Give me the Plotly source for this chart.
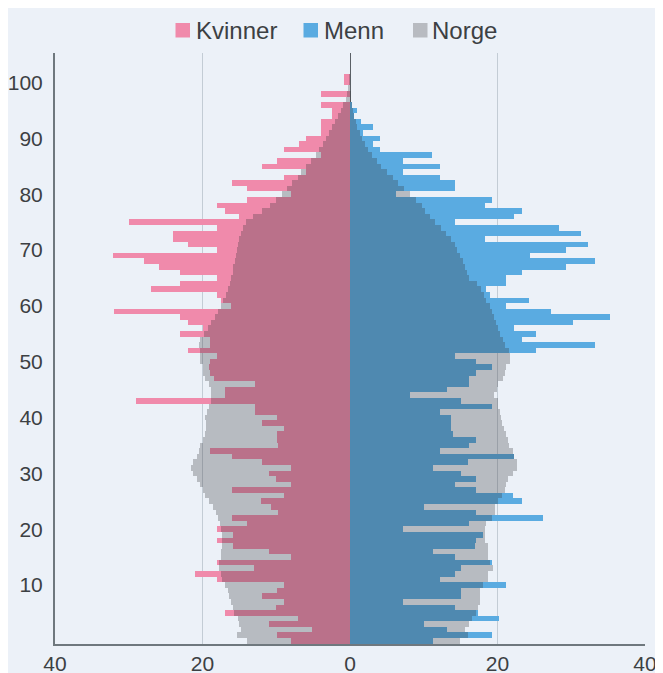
import plotly.graph_objects as go

ages = list(range(0, 102))

kvinner = [
    8.0, 9.9, 5.1, 11.0, 7.0, 17.0, 10.0, 9.0, 12.0, 9.9,
    9.0, 18.0, 21.0, 13.0, 18.0, 8.0, 11.0, 15.9, 18.0, 15.9,
    18.0, 13.9, 16.0, 9.8, 10.7, 12.1, 8.9, 16.0, 8.0, 10.0,
    11.0, 8.0, 12.0, 16.0, 19.0, 9.8, 9.9, 9.9, 8.9, 11.9,
    9.9, 12.9, 12.9, 29.0, 17.0, 17.0, 12.9, 18.5, 19.0, 19.1,
    19.0, 18.0, 22.0, 19.0, 19.0, 23.0, 20.0, 22.0, 23.0, 32.0,
    16.2, 17.5, 18.0, 27.0, 23.0, 18.0, 23.0, 25.9, 28.0, 32.1,
    18.0, 22.0, 24.0, 24.0, 18.0, 30.0, 15.0, 17.0, 18.0, 13.9,
    8.0, 13.9, 16.0, 8.9, 6.0, 12.0, 9.9, 4.0, 8.9, 6.9,
    5.9, 3.9, 3.9, 3.9, 2.5, 2.5, 3.9, 0.0, 3.9, 0.0,
    0.8, 0.8,
]

menn = [
    11.2, 19.2, 13.2, 10.1, 20.2, 17.3, 14.2, 7.2, 15.1, 15.1,
    21.2, 12.2, 14.2, 15.1, 19.2, 14.2, 11.2, 17.0, 17.1, 18.0,
    7.2, 16.2, 26.2, 17.1, 10.1, 23.3, 22.1, 17.1, 14.2, 17.1,
    15.1, 11.2, 16.0, 22.3, 12.2, 16.2, 17.1, 14.0, 13.7, 13.7,
    13.7, 12.2, 19.2, 15.1, 8.1, 13.2, 16.2, 16.2, 17.1, 19.2,
    17.1, 14.2, 25.2, 33.2, 23.3, 25.2, 22.3, 30.3, 35.3, 27.3,
    21.2, 24.3, 19.0, 18.5, 21.2, 21.2, 23.3, 29.3, 33.2, 24.4,
    29.3, 32.3, 18.3, 31.3, 28.3, 14.2, 22.3, 23.3, 18.3, 19.2,
    6.3, 14.2, 14.2, 12.2, 7.2, 12.2, 7.2, 11.1, 4.0, 3.1,
    4.1, 1.8, 3.1, 1.5, 0.5, 1.0, 0.3, 0.0, 0.0, 0.0,
    0.0, 0.0,
]

norge_kvinner = [
    13.9, 15.3, 14.8, 15.0, 15.2, 15.7, 15.9, 16.2, 16.4, 16.6,
    17.0, 17.3, 17.5, 17.7, 17.7, 17.5, 17.5, 17.4, 17.3, 17.3,
    17.5, 17.6, 17.9, 18.2, 18.6, 19.1, 19.6, 20.0, 20.3, 20.8,
    21.3, 21.6, 21.3, 20.8, 20.5, 20.3, 20.0, 19.7, 19.5, 19.5,
    19.6, 19.4, 19.1, 18.9, 18.8, 18.9, 19.1, 19.7, 19.9, 20.0,
    20.3, 20.3, 20.4, 20.5, 20.3, 19.8, 19.3, 18.8, 18.3, 17.9,
    17.5, 17.2, 16.8, 16.5, 16.3, 16.1, 15.9, 15.8, 15.6, 15.5,
    15.3, 15.2, 15.0, 14.8, 14.5, 14.1, 13.2, 12.0, 10.8, 10.0,
    9.2, 8.5, 7.8, 7.1, 6.6, 6.0, 5.3, 4.6, 4.2, 3.7,
    3.3, 2.8, 2.4, 2.0, 1.6, 1.2, 0.9, 0.6, 0.4, 0.25,
    0.15, 0.1,
]

norge_menn = [
    14.9, 16.0, 15.6, 16.2, 16.5, 17.1, 17.3, 17.6, 17.6, 17.6,
    18.0, 18.7, 18.7, 19.4, 19.0, 18.7, 18.7, 18.7, 18.3, 18.3,
    18.3, 18.5, 19.2, 19.6, 19.6, 20.0, 20.6, 21.0, 21.2, 21.4,
    22.1, 22.6, 22.6, 22.2, 22.1, 21.5, 21.4, 21.2, 20.9, 20.6,
    20.5, 20.3, 20.1, 20.1, 19.5, 19.9, 20.1, 20.8, 21.0, 21.2,
    21.7, 21.7, 21.5, 21.0, 20.7, 20.4, 20.1, 19.8, 19.5, 19.2,
    19.0, 18.5, 18.2, 17.8, 17.2, 16.2, 15.9, 15.6, 15.3, 14.9,
    14.5, 14.2, 13.7, 13.0, 12.3, 11.5, 10.8, 10.2, 9.7, 8.9,
    8.1, 7.3, 6.5, 5.8, 5.0, 4.2, 3.6, 3.0, 2.5, 2.0,
    1.6, 1.3, 1.0, 0.8, 0.6, 0.4, 0.3, 0.2, 0.1, 0.05,
    0.03, 0.02,
]

x_tickvals = [-40, -20, 0, 20, 40]
x_ticktext = ["40", "20", "0", "20", "40"]
y_tickvals = [10, 20, 30, 40, 50, 60, 70, 80, 90, 100]
legend_names = ["Kvinner", "Menn", "Norge"]

PINK = "#f08aab"
BLUE = "#5aabe1"
NORGE = "rgba(52,52,56,0.285)"
NORGE_SWATCH = "#b8bbc1"
BG = "#ecf1f8"
FONT = "Liberation Sans, Arial, sans-serif"
TEXT = "#3c4043"

# figure geometry (the page adds an 8px body margin at top/left)
OFF = 8
W, H = 655, 665
L, R, T, B = 47, 18, 45, 29
PW, PH = W - L - R, H - T - B


def px(p):  # page x pixel -> paper x
    return (p - OFF - L) / PW


def py(q):  # page y pixel -> paper y
    return (H - B - (q - OFF)) / PH


fig = go.Figure()
fig.add_trace(go.Bar(
    y=ages, x=[-v for v in kvinner], orientation="h", name=legend_names[0],
    marker=dict(color=PINK, line=dict(width=0)), width=1.0,
))
fig.add_trace(go.Bar(
    y=ages, x=menn, orientation="h", name=legend_names[1],
    marker=dict(color=BLUE, line=dict(width=0)), width=1.0,
))
fig.add_trace(go.Bar(
    y=ages, x=[-v for v in norge_kvinner], orientation="h", name=legend_names[2],
    legendgroup="norge", marker=dict(color=NORGE, line=dict(width=0)), width=1.0,
))
fig.add_trace(go.Bar(
    y=ages, x=norge_menn, orientation="h", name=legend_names[2],
    legendgroup="norge", marker=dict(color=NORGE, line=dict(width=0)), width=1.0,
))

# custom legend (swatch + label) matching the reference spacing
swatch_x = [175.5, 303.5, 413.0]
label_x = [193.5, 321.5, 430.0]
swatch_cols = [PINK, BLUE, NORGE_SWATCH]
shapes = []
annotations = []
for name, sx, lx, col in zip(legend_names, swatch_x, label_x, swatch_cols):
    shapes.append(dict(
        type="rect", xref="paper", yref="paper", layer="above",
        x0=px(sx), x1=px(sx + 14.5), y0=py(37.5), y1=py(23),
        fillcolor=col, line=dict(width=0),
    ))
    annotations.append(dict(
        text=name, xref="paper", yref="paper", x=px(lx), y=py(30.5),
        xanchor="left", yanchor="middle", showarrow=False,
        font=dict(family=FONT, size=24, color=TEXT),
    ))

fig.update_layout(
    width=W, height=H,
    margin=dict(l=L, r=R, t=T, b=B, autoexpand=False),
    barmode="overlay", bargap=0,
    paper_bgcolor=BG, plot_bgcolor=BG,
    font=dict(family=FONT, color=TEXT, size=21),
    showlegend=False,
    shapes=shapes,
    annotations=annotations,
)

fig.update_xaxes(
    range=[-40, 40], tickvals=x_tickvals, ticktext=x_ticktext,
    showgrid=True, gridcolor="#c3ccd5", gridwidth=1,
    zeroline=True, zerolinecolor="#5a6066", zerolinewidth=1.3,
    showline=True, linecolor="#6f787e", linewidth=2,
    ticks="", tickfont=dict(size=21, color=TEXT), automargin=False,
)
fig.update_yaxes(
    range=[-0.57, 105.3], tickvals=y_tickvals,
    showgrid=False, zeroline=False,
    showline=True, linecolor="#6f787e", linewidth=2,
    ticks="", tickfont=dict(size=21, color=TEXT),
    ticklabelstandoff=6, automargin=False,
)

fig.write_html("out.html")
